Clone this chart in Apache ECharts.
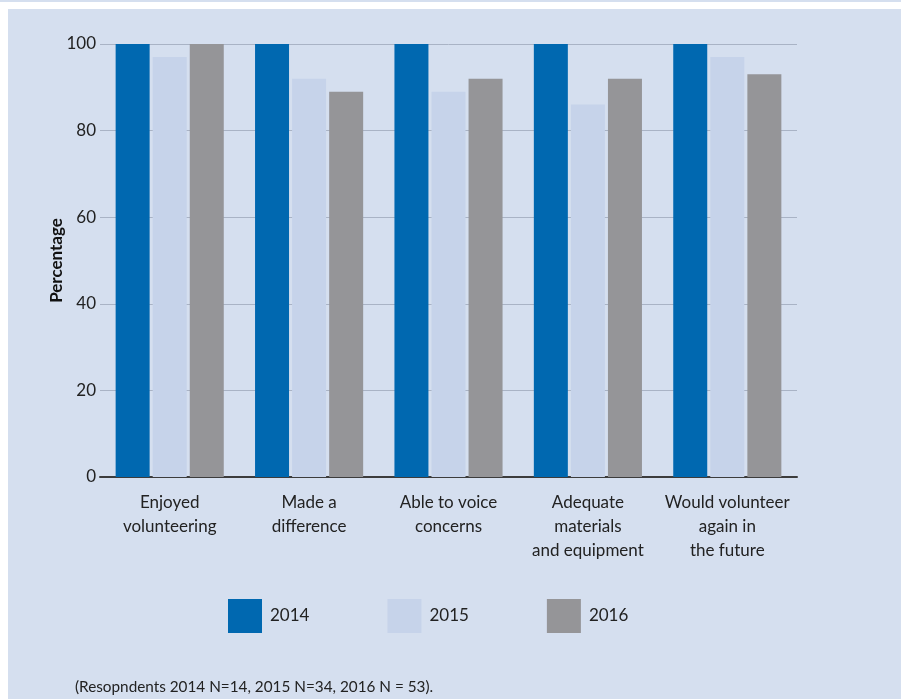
<!DOCTYPE html>
<html>
<head>
<meta charset="utf-8">
<script src="https://cdn.jsdelivr.net/npm/echarts@6/dist/echarts.min.js"></script>
<style>
  html, body { margin: 0; padding: 0; background: #ffffff; }
  #chart { width: 901px; height: 699px; }
</style>
</head>
<body>
<div id="chart"></div>
<script>
// Survey categories and yearly percentages
var categories = [
  'Enjoyed\nvolunteering',
  'Made a\ndifference',
  'Able to voice\nconcerns',
  'Adequate\nmaterials\nand equipment',
  'Would volunteer\nagain in\nthe future'
];
var values2014 = [100, 100, 100, 100, 100];
var values2015 = [97, 92, 89, 86, 97];
var values2016 = [100, 89, 92, 92, 93];
var yTicks = [0, 20, 40, 60, 80, 100];

var FONT = 'Lato, "Open Sans", sans-serif';
var PANEL = '#d5dfef';

var chart = echarts.init(document.getElementById('chart'), null, { renderer: 'canvas' });

function bar(name, data, color) {
  return {
    name: name,
    type: 'bar',
    data: data,
    barWidth: 34,
    barGap: '9%',
    itemStyle: { color: color },
    emphasis: { disabled: true }
  };
}

chart.setOption({
  backgroundColor: '#ffffff',
  animation: false,
  graphic: [
    { type: 'rect', z: -10, shape: { x: 0, y: 0, width: 901, height: 2 }, style: { fill: PANEL } },
    { type: 'rect', z: -10, shape: { x: 8, y: 9, width: 893, height: 690 }, style: { fill: PANEL } },
    {
      type: 'text', left: 75, top: 680,
      style: { text: '(Resopndents 2014 N=14, 2015 N=34, 2016 N = 53).', font: '15.3px ' + FONT, fill: '#222222' }
    }
  ],
  grid: { left: 100, right: 104, top: 44, bottom: 222, containLabel: false },
  legend: {
    left: 228, top: 599, padding: 0,
    itemWidth: 34, itemHeight: 34, itemGap: 78,
    icon: 'rect',
    textStyle: { fontFamily: FONT, fontSize: 17, color: '#222222', padding: [0, 0, 0, 3] },
    data: ['2014', '2015', '2016']
  },
  xAxis: {
    type: 'category',
    data: categories,
    axisLine: { lineStyle: { color: '#3c3c3c', width: 2 } },
    axisTick: { show: false },
    axisLabel: { fontFamily: FONT, fontSize: 17, color: '#222222', lineHeight: 24, margin: 14, interval: 0 }
  },
  yAxis: {
    type: 'value',
    min: yTicks[0], max: yTicks[yTicks.length - 1], interval: 20,
    name: 'Percentage',
    nameLocation: 'middle',
    nameGap: 35,
    nameMoveOverlap: false,
    nameTextStyle: { fontFamily: FONT, fontSize: 17, fontWeight: 'bold', color: '#111111' },
    axisLine: { show: false },
    axisTick: { show: false },
    axisLabel: { fontFamily: FONT, fontSize: 17, color: '#222222', margin: 4 },
    splitLine: { lineStyle: { color: '#a9b3c5', width: 1 } }
  },
  series: [
    bar('2014', values2014, '#0068b0'),
    bar('2015', values2015, '#c6d3ea'),
    bar('2016', values2016, '#959598')
  ]
});
</script>
</body>
</html>
